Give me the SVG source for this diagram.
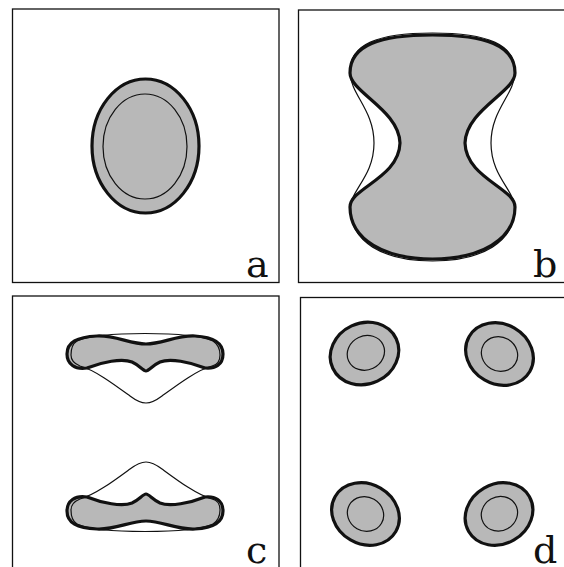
<svg xmlns="http://www.w3.org/2000/svg" width="564" height="567" viewBox="0 0 564 567">
<style>
.frame{fill:none;stroke:#111;stroke-width:1.3}
.gray{fill:#b8b8b8;stroke:none}
.thick{fill:none;stroke:#111;stroke-width:3.2;stroke-linejoin:round}
.thin{fill:none;stroke:#111;stroke-width:1.2}
.grayThick{fill:#b8b8b8;stroke:#111;stroke-width:3.2}
.grayThin{fill:#b8b8b8;stroke:#111;stroke-width:1.2}
.lbl{font-family:"DejaVu Serif","Liberation Serif",serif;font-size:38px;fill:#111}
</style>
<defs>
<path id="cband" d="M 67 354 C 67 342, 77 337, 97 336 C 115 335, 130 344, 146 344 C 162 344, 177 335, 195 336 C 213 337, 223 342, 223 354 C 223 365, 215 369, 205 368 C 190 362, 170 358, 160 362 C 153 365, 149 371, 146 371 C 143 371, 139 365, 132 362 C 122 358, 102 362, 87 368 C 75 370, 67 364, 67 354 Z"/>
<path id="cthin" d="M 77 341 C 100 331, 190 331, 213 341 C 219 345, 220 350, 220 355 C 220 361, 217 365, 212 366 C 197 370, 177 385, 162 396 C 154 402, 150 403, 146 403 C 142 403, 138 402, 130 396 C 115 385, 95 370, 80 366 C 75 364, 71 360, 71 355 C 71 350, 72 344, 77 341 Z"/>
</defs>

<g id="panel-a">
<rect class="frame" x="12.5" y="9" width="266.5" height="273.5"/>
<ellipse class="grayThick" cx="145.5" cy="146" rx="53.5" ry="67"/>
<ellipse class="grayThin" cx="145" cy="146.5" rx="42" ry="52.5"/>
<text class="lbl" x="246" y="277">a</text>
</g>

<g id="panel-b">
<rect class="frame" x="298.5" y="10" width="270" height="272.5"/>
<path class="thin" d="M 432.5 33 C 487 33, 516 44, 515 73 C 514 95, 491 110, 491 143 C 491 176, 514 190, 515 207 C 515 242, 482 261, 432.5 261 C 383 261, 350 242, 350 207 C 351 190, 374 176, 374 143 C 374 110, 351 95, 350 73 C 349 44, 378 33, 432.5 33 Z"/>
<path class="grayThick" d="M 432.5 35 C 485 35, 515 45, 515 73 C 515 92, 466 110, 465 143 C 466 178, 515 188, 515 207 C 515 240, 480 259, 432.5 259 C 385 259, 350 240, 350 207 C 350 188, 399 178, 400 143 C 399 110, 350 92, 350 73 C 350 45, 380 35, 432.5 35 Z"/>
<text class="lbl" x="533" y="277">b</text>
</g>

<g id="panel-c">
<rect class="frame" x="12.5" y="296" width="266.5" height="280"/>
<g id="c-upper">
<use href="#cband" class="gray"/>
<use href="#cthin" class="thin"/>
<use href="#cband" class="thick"/>
</g>
<g id="c-lower" transform="translate(0,865) scale(1,-1)">
<use href="#cband" class="gray"/>
<use href="#cthin" class="thin"/>
<use href="#cband" class="thick"/>
</g>
<text class="lbl" x="246" y="563">c</text>
</g>

<g id="panel-d">
<rect class="frame" x="300.5" y="297.5" width="270" height="280"/>
<g transform="translate(364.5,353.5) rotate(-25)">
<ellipse class="grayThick" rx="35" ry="30.5"/>
<ellipse class="grayThin" cx="1.5" rx="19" ry="17"/>
</g>
<g transform="translate(499.5,354) rotate(30)">
<ellipse class="grayThick" rx="35" ry="30"/>
<ellipse class="grayThin" rx="18.5" ry="17"/>
</g>
<g transform="translate(365.5,514) rotate(30)">
<ellipse class="grayThick" rx="35" ry="30"/>
<ellipse class="grayThin" rx="18.5" ry="17"/>
</g>
<g transform="translate(499,514) rotate(-30)">
<ellipse class="grayThick" rx="35" ry="30"/>
<ellipse class="grayThin" cx="0.5" rx="18.5" ry="17"/>
</g>
<text class="lbl" x="533" y="563">d</text>
</g>
</svg>
